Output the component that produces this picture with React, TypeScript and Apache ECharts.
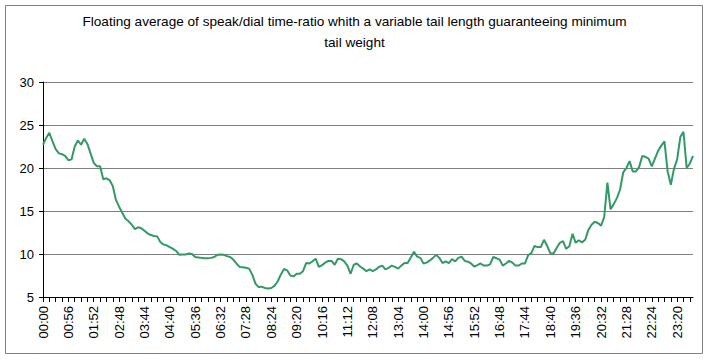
import React, { useEffect, useRef } from "react";
import * as echarts from "echarts";

const TITLE_LINES = [
  "Floating average of speak/dial time-ratio whith a variable tail length guaranteeing minimum",
  "tail weight",
];

// one sample every 7 minutes, from 00:00 to 23:55
const STEP_MINUTES = 7;
const SAMPLE_COUNT = 206;
const categories: string[] = Array.from({ length: SAMPLE_COUNT }, (_, i) => {
  const m = i * STEP_MINUTES;
  return `${String(Math.floor(m / 60)).padStart(2, "0")}:${String(m % 60).padStart(2, "0")}`;
});

const ratioNight = [
  22.7, 23.5, 24.1, 23.1, 22.2, 21.7, 21.6, 21.4, 20.9, 21.0,
  22.5, 23.2, 22.7, 23.4, 22.8, 21.7, 20.6, 20.2, 20.2, 18.7,
  18.8, 18.6, 17.9, 16.3, 15.5, 14.8, 14.1, 13.8, 13.4, 12.9,
  13.1, 13.0, 12.7, 12.4, 12.2, 12.1, 12.05, 11.4, 11.1, 11.0,
  10.8, 10.6, 10.35, 9.9, 9.95, 9.95, 10.05, 10.0, 9.65, 9.6,
  9.55, 9.5, 9.5, 9.55, 9.65, 9.9, 9.95, 9.9, 9.75, 9.65,
  9.35, 8.9, 8.5, 8.45, 8.4, 8.3, 7.6, 6.55, 6.15, 6.2,
];
const ratioDay = [
  6.05, 6.0, 6.05, 6.3, 6.8, 7.6, 8.25, 8.1, 7.5, 7.4,
  7.7, 7.7, 8.0, 8.95, 8.9, 9.15, 9.45, 8.5, 8.7, 9.0,
  9.2, 9.2, 8.75, 9.45, 9.4, 9.15, 8.65, 7.7, 8.75, 8.9,
  8.55, 8.3, 8.0, 8.2, 8.0, 8.2, 8.5, 8.65, 8.2, 8.4,
  8.65, 8.5, 8.3, 8.65, 8.95, 8.95, 9.6, 10.25, 9.7, 9.55,
  8.9, 9.0, 9.25, 9.55, 9.9, 9.55, 8.95, 9.15, 8.95, 9.4,
  9.15, 9.55, 9.7, 9.2, 9.1, 8.9, 8.55, 8.7, 8.9, 8.65,
];
const ratioEvening = [
  8.65, 8.8, 9.65, 9.5, 9.35, 8.65, 8.9, 9.2, 9.0, 8.65,
  8.65, 8.9, 8.9, 9.85, 10.1, 10.95, 10.8, 10.8, 11.65, 10.95,
  10.1, 10.05, 10.7, 11.3, 11.5, 10.6, 10.9, 12.35, 11.3, 11.6,
  11.35, 11.65, 12.8, 13.4, 13.75, 13.6, 13.3, 14.3, 18.3, 15.2,
  15.8, 16.5, 17.5, 19.5, 20.0, 20.8, 19.6, 19.6, 20.1, 21.4,
  21.3, 21.1, 20.2, 21.1, 22.0, 22.6, 23.1, 19.6, 18.05, 19.9,
  21.0, 23.6, 24.2, 20.0, 20.5, 21.4,
];
const ratioValues = [...ratioNight, ...ratioDay, ...ratioEvening];

const Y_MIN = 5;
const Y_MAX = 30;
const Y_STEP = 5;

const FONT = "Arial, 'Liberation Sans', sans-serif";

export default function App() {
  const ref = useRef<HTMLDivElement>(null);

  useEffect(() => {
    if (!ref.current) return;
    const chart = echarts.init(ref.current, null, { renderer: "svg" });
    chart.setOption({
      animation: false,
      backgroundColor: "#ffffff",
      title: {
        text: TITLE_LINES.join("\n"),
        left: "center",
        top: 6,
        textStyle: {
          fontFamily: FONT,
          fontSize: 13.6,
          fontWeight: "normal",
          color: "#000000",
          lineHeight: 21,
        },
      },
      graphic: [
        {
          type: "rect",
          shape: { x: 5.5, y: 5.5, width: 697, height: 348 },
          style: { fill: "none", stroke: "#808080", lineWidth: 1 },
          silent: true,
        },
      ],
      grid: { left: 43, right: 16, top: 82, bottom: 62, containLabel: false },
      xAxis: {
        type: "category",
        data: categories,
        boundaryGap: false,
        axisLine: { show: true, lineStyle: { color: "#000000", width: 1 } },
        axisTick: { show: true, interval: 1, length: 5, lineStyle: { color: "#000000" } },
        axisLabel: {
          interval: 7,
          rotate: 90,
          margin: 9,
          fontFamily: FONT,
          fontSize: 13,
          color: "#000000",
        },
        splitLine: { show: false },
      },
      yAxis: {
        type: "value",
        min: Y_MIN,
        max: Y_MAX,
        interval: Y_STEP,
        axisLine: { show: true, lineStyle: { color: "#000000", width: 1 } },
        axisTick: { show: true, length: 4, lineStyle: { color: "#000000" } },
        axisLabel: {
          margin: 9,
          fontFamily: FONT,
          fontSize: 13,
          color: "#000000",
        },
        splitLine: { show: true, lineStyle: { color: "#808080", width: 1 } },
      },
      series: [
        {
          type: "line",
          data: ratioValues,
          showSymbol: false,
          symbol: "none",
          lineStyle: { color: "#339966", width: 2 },
          itemStyle: { color: "#339966" },
        },
      ],
    });
    return () => chart.dispose();
  }, []);

  return (
    <div
      ref={ref}
      style={{ position: "absolute", left: 0, top: 0, width: 709, height: 359 }}
    />
  );
}
